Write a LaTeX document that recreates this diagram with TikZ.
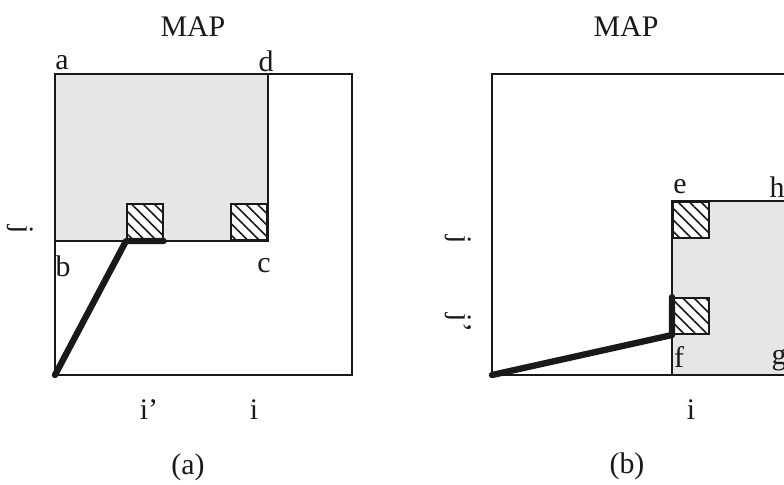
\documentclass[tikz,border=0pt]{standalone}
\usepackage{fontspec}
\setmainfont{Liberation Serif}
\usepackage{tikz}
\usetikzlibrary{positioning, patterns.meta}
\definecolor{mydark}{RGB}{25,25,25}
\definecolor{myshade}{RGB}{230,230,230}
\tikzset{
  frame/.style={draw=mydark, line width=1.3pt},
  edge/.style={draw=mydark, line width=1pt},
  region/.style={fill=myshade},
  hatchbox/.style={draw=mydark, line width=1.1pt, rectangle, inner sep=0pt, minimum size=0.72cm,
    preaction={fill=white}, pattern={Lines[angle=-45, distance=4.6pt, line width=0.9pt]}, pattern color=mydark},
  trace/.style={draw=mydark, line width=3.6pt, line cap=round, line join=round},
  lbl/.style={font=\fontsize{17}{20}\selectfont, inner sep=0pt, text=mydark},
  axis/.style={lbl, rotate=-90}
}
\begin{document}
\begin{tikzpicture}[x=0.02cm, y=-0.02cm]
  \useasboundingbox (0,0) rectangle (784,484);
  \clip (0,0) rectangle (784,484);

  % (a)
  \fill [region] (55,74) rectangle (268,241);
  \draw [edge] (268,74) -- (268,241) -- (55,241);
  \draw [frame] (55,74) rectangle (352,375);
  \coordinate (oa) at (55,375);
  \node [hatchbox, anchor=south west] (ha1) at (126,241) {};
  \node [hatchbox, anchor=south east] (ha2) at (268,241) {};
  \draw [trace] (oa) -- (ha1.south west) -- (ha1.south east);

  \node [lbl] (mapa) at (193,27) {MAP};
  \node [lbl] (la) at (62,63) {a};
  \node [lbl] (ld) at (266,61) {d};
  \node [lbl] (lb) at (63,266) {b};
  \node [lbl] (lc) at (264,266) {c};
  \node [axis] (ja) at (20,230) {j};
  \node [lbl] (ipa) at (149,410) {i'};
  \node [lbl] (ia) at (254,410) {i};
  \node [lbl] (capa) at (188,467) {(a)};

  % (b)
  \fill [region] (672,201) rectangle (800,375);
  \draw [edge] (800,201) -- (672,201) -- (672,375);
  \draw [frame] (492,74) rectangle (800,375);
  \coordinate (ob) at (492,375);
  \node [hatchbox, anchor=north west] (hb1) at (672,201) {};
  \node [hatchbox, anchor=south west] (hb2) at (672,335) {};
  \draw [trace] (ob) -- (hb2.south west) -- (hb2.north west);

  \node [lbl] (mapb) at (626,27) {MAP};
  \node [lbl] (le) at (680,187) {e};
  \node [lbl] (lh) at (777,187) {h};
  \node [lbl] (lf) at (679,357) {f};
  \node [lbl] (lg) at (779,360) {g};
  \node [axis] (jb) at (458,240) {j};
  \node [axis] (jpb) at (458,323) {j'};
  \node [lbl] (ib) at (691,410) {i};
  \node [lbl] (capb) at (627,466) {(b)};
\end{tikzpicture}
\end{document}
